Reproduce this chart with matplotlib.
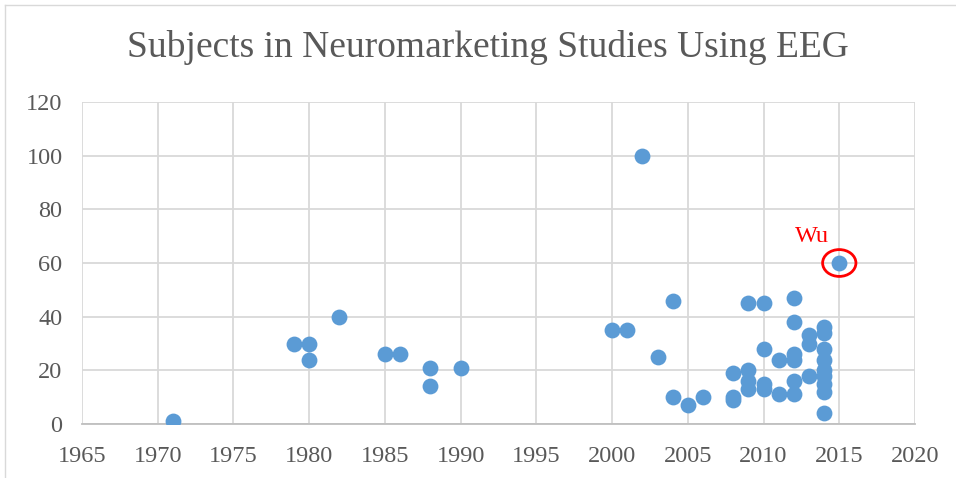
import matplotlib
matplotlib.use("Agg")
import matplotlib.pyplot as plt
from matplotlib.patches import Ellipse
from matplotlib.lines import Line2D

plt.rcParams['font.family'] = ['Liberation Serif', 'DejaVu Serif']

# data
years = [1971, 1979, 1980, 1980, 1982, 1985, 1986, 1988, 1988, 1990,
         2000, 2001, 2002, 2003, 2004, 2004, 2005, 2006,
         2008, 2008, 2008,
         2009, 2009, 2009, 2009,
         2010, 2010, 2010, 2010,
         2011, 2011,
         2012, 2012, 2012, 2012, 2012, 2012,
         2013, 2013, 2013,
         2014, 2014, 2014, 2014, 2014, 2014, 2014, 2014, 2014,
         2015]
subjects = [1, 30, 30, 24, 40, 26, 26, 21, 14, 21,
            35, 35, 100, 25, 46, 10, 7, 10,
            19, 10, 9,
            45, 20, 16, 13,
            45, 28, 15, 13,
            24, 11,
            47, 38, 26, 24, 16, 11,
            33, 30, 18,
            36, 34, 28, 24, 20, 18, 15, 12, 4,
            60]
wu_year, wu_subjects = 2015, 60

fig = plt.figure(figsize=(9.56, 4.78), dpi=100)
ax = fig.add_axes([82/956, 54/478, 833/956, 322/478])

ax.scatter(years, subjects, s=130, color='#5B9BD5', zorder=3, linewidths=0)

ax.set_xlim(1965, 2020)
ax.set_ylim(0, 120)
ax.set_xticks(range(1965, 2021, 5))
ax.set_yticks(range(0, 121, 20))
ax.grid(True, color='#D9D9D9', linewidth=1.3)
ax.set_axisbelow(True)
for s in ['left', 'right', 'top']:
    ax.spines[s].set_visible(False)
ax.spines['bottom'].set_color('#BFBFBF')
ax.spines['bottom'].set_linewidth(1.3)
ax.tick_params(length=0, labelsize=17.5, labelcolor='#595959')
ax.tick_params(axis='y', pad=14)
ax.tick_params(axis='x', pad=16)

# highlight Wu
ax.add_patch(Ellipse((wu_year, wu_subjects), 2.2, 10, fill=False,
                     edgecolor='red', linewidth=2, zorder=4))
ax.text(wu_year - 1.8, wu_subjects + 10, 'Wu', color='red', fontsize=17.5,
        ha='center', va='center')

fig.text(488/956, 1 - 47/478, 'Subjects in Neuromarketing Studies Using EEG',
         ha='center', va='center', fontsize=27, color='#595959')

# chart frame edges
fig.add_artist(Line2D([5/956, 5/956], [0, 1 - 5/478], color='#D9D9D9', lw=1))
fig.add_artist(Line2D([5/956, 1], [1 - 5/478, 1 - 5/478], color='#D9D9D9', lw=1))

fig.savefig('out.png', dpi=100)
